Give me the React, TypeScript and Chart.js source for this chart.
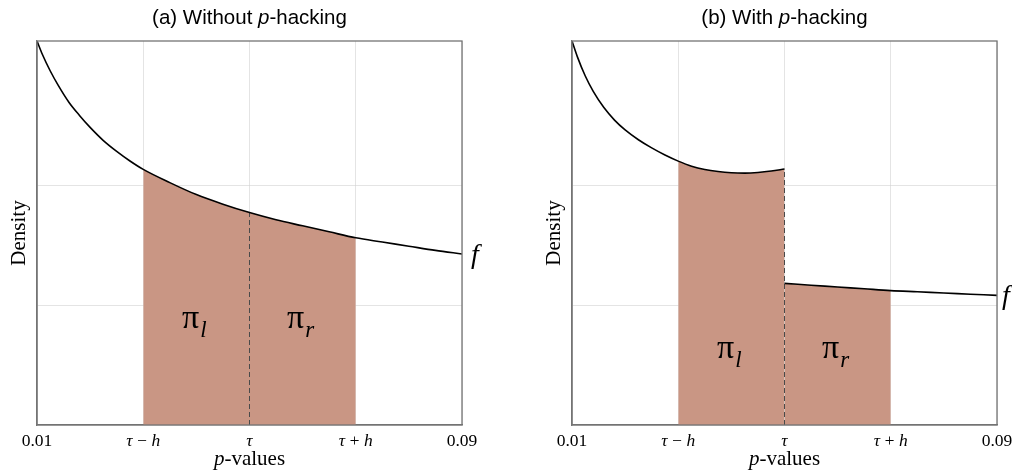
import React, { useEffect, useRef } from "react";
import { Chart, registerables } from "chart.js";
Chart.register(...registerables);

// ---------- data ----------
const pGrid = [0.01, 0.011, 0.0125, 0.014, 0.016, 0.018, 0.02, 0.0225, 0.025, 0.0275, 0.03, 0.035, 0.04, 0.045, 0.05, 0.055, 0.06, 0.065, 0.07, 0.075, 0.08, 0.085, 0.09];
const densityNoHacking = [3.2, 3.09, 2.95, 2.83, 2.69, 2.58, 2.48, 2.37, 2.28, 2.2, 2.13, 2.02, 1.92, 1.84, 1.77, 1.71, 1.66, 1.61, 1.56, 1.525, 1.49, 1.455, 1.425];

const pHackedLow = [0.01, 0.011, 0.0125, 0.014, 0.016, 0.018, 0.02, 0.0225, 0.025, 0.0275, 0.03, 0.0325, 0.035, 0.0375, 0.04, 0.0425, 0.045, 0.0475, 0.05];
const densityHackedLow = [3.2, 3.07, 2.908, 2.78, 2.645, 2.541, 2.459, 2.377, 2.309, 2.25, 2.199, 2.157, 2.129, 2.112, 2.102, 2.099, 2.104, 2.116, 2.134];
const pHackedHigh = [0.05, 0.055, 0.06, 0.065, 0.07, 0.075, 0.08, 0.085, 0.09];
const densityHackedHigh = [1.18, 1.165, 1.15, 1.135, 1.12, 1.11, 1.1, 1.09, 1.08];

const tau = 0.05;
const h = 0.02;
const xTickValues = [0.01, 0.03, 0.05, 0.07, 0.09];
const xTickLabels = ["0.01", "τ\u2009−\u2009h", "τ", "τ\u2009+\u2009h", "0.09"];
const yGridValues = [1, 2];
const piLabelX = [0.04, 0.06];
const piLabelText = [["π", "l"], ["π", "r"]];

// ---------- styles ----------
const FILL = "rgb(201,150,132)";
const GRID = "rgba(210,210,210,0.6)";
const BORDER = "#747474";
const SERIF = '"Liberation Serif", "DejaVu Serif", serif';
const SANS = '"Liberation Sans", Arial, sans-serif';

type Pt = { x: number; y: number };
const toPoints = (xs: number[], ys: number[]): Pt[] => xs.map((x, i) => ({ x, y: ys[i] }));
const between = (pts: Pt[], lo: number, hi: number) => pts.filter((p) => p.x >= lo - 1e-9 && p.x <= hi + 1e-9);

type Run = { text: string; font: string; dy?: number; dx?: number };
function drawRuns(ctx: CanvasRenderingContext2D, runs: Run[], x: number, y: number) {
  let total = 0;
  const widths = runs.map((r) => {
    ctx.font = r.font;
    const w = ctx.measureText(r.text).width + (r.dx || 0);
    total += w;
    return w;
  });
  let cx = x - total / 2;
  ctx.textAlign = "left";
  ctx.textBaseline = "alphabetic";
  runs.forEach((r, i) => {
    ctx.font = r.font;
    ctx.fillText(r.text, cx + (r.dx || 0), y + (r.dy || 0));
    cx += widths[i];
  });
}

const curveStyle = {
  borderColor: "#000",
  borderWidth: 1.6,
  pointRadius: 0,
  fill: false,
  cubicInterpolationMode: "monotone" as const,
};
const dashStyle = {
  borderColor: "#4a4a4a",
  borderWidth: 1,
  borderDash: [5, 3],
  pointRadius: 0,
  fill: false,
};
const fillStyle = {
  borderWidth: 0,
  borderColor: "rgba(0,0,0,0)",
  backgroundColor: FILL,
  pointRadius: 0,
  fill: "origin",
  cubicInterpolationMode: "monotone" as const,
};

type PanelCfg = {
  title: string;
  datasets: any[];
  axisWidth: number;
  padRight: number;
  piBaseline: number;
  fValue: number;
  fOffset: number;
};

function buildConfig(p: PanelCfg): any {
  const textPlugin = {
    id: "panelText",
    afterDraw(chart: any) {
      const ctx: CanvasRenderingContext2D = chart.ctx;
      const area = chart.chartArea;
      const xs = chart.scales.x;
      const ys = chart.scales.y;
      const cx = (area.left + area.right) / 2;
      ctx.save();
      ctx.fillStyle = "#000";
      // title
      drawRuns(ctx, [
        { text: p.title + " ", font: `20.5px ${SANS}` },
        { text: "p", font: `italic 20.5px ${SANS}` },
        { text: "-hacking", font: `20.5px ${SANS}` },
      ], cx, 24);
      // x axis title
      drawRuns(ctx, [
        { text: "p", font: `italic 21px ${SERIF}` },
        { text: "-values", font: `21px ${SERIF}` },
      ], cx, 465);
      // y axis title
      ctx.save();
      ctx.translate(area.left - 12, (area.top + area.bottom) / 2);
      ctx.rotate(-Math.PI / 2);
      drawRuns(ctx, [{ text: "Density", font: `21px ${SERIF}` }], 0, 0);
      ctx.restore();
      // pi labels
      piLabelX.forEach((vx, i) => {
        drawRuns(ctx, [
          { text: piLabelText[i][0], font: `34px ${SERIF}` },
          { text: piLabelText[i][1], font: `italic 23px ${SERIF}`, dy: 9, dx: 1 },
        ], xs.getPixelForValue(vx) - 2, ys.getPixelForValue(p.piBaseline));
      });
      // f label
      ctx.font = `italic 28px ${SERIF}`;
      ctx.textAlign = "left";
      ctx.fillText("f", area.right + p.fOffset, ys.getPixelForValue(p.fValue) + 9);
      // frame (top & right)
      ctx.strokeStyle = BORDER;
      ctx.lineWidth = 1.3;
      ctx.strokeRect(area.left, area.top, area.right - area.left, area.bottom - area.top);
      ctx.restore();
    },
  };

  return {
    type: "line",
    data: { datasets: p.datasets },
    plugins: [textPlugin],
    options: {
      animation: false,
      responsive: false,
      devicePixelRatio: 1,
      layout: { padding: { left: 0, top: 41, right: p.padRight, bottom: 0 } },
      plugins: { legend: { display: false }, tooltip: { enabled: false }, title: { display: false } },
      scales: {
        x: {
          type: "linear",
          min: 0.01,
          max: 0.09,
          z: 1,
          afterBuildTicks: (s: any) => {
            s.ticks = xTickValues.map((v) => ({ value: v }));
          },
          afterFit: (s: any) => {
            s.height = 48;
            s.paddingLeft = 0;
            s.paddingRight = 0;
          },
          ticks: {
            autoSkip: false,
            maxRotation: 0,
            padding: 6,
            color: "#000",
            callback: (_v: any, i: number) => xTickLabels[i],
            font: (c: any) => ({
              family: SERIF,
              size: 17.5,
              style: c.index >= 1 && c.index <= 3 ? "italic" : "normal",
            }),
          },
          grid: { color: GRID, drawTicks: false, lineWidth: 1 },
          border: { color: BORDER, width: 1.3 },
        },
        y: {
          type: "linear",
          min: 0,
          max: 3.2,
          z: 1,
          afterBuildTicks: (s: any) => {
            s.ticks = yGridValues.map((v) => ({ value: v }));
          },
          afterFit: (s: any) => {
            s.width = p.axisWidth;
            s.paddingTop = 0;
            s.paddingBottom = 0;
          },
          ticks: { display: false },
          grid: { color: GRID, drawTicks: false, lineWidth: 1 },
          border: { color: BORDER, width: 1.3 },
        },
      },
    },
  };
}

const ptsA = toPoints(pGrid, densityNoHacking);
const tauA = densityNoHacking[pGrid.indexOf(tau)];
const panelA: PanelCfg = {
  title: "(a) Without",
  axisWidth: 37,
  padRight: 44,
  piBaseline: 0.81,
  fValue: densityNoHacking[densityNoHacking.length - 1],
  fOffset: 9,
  datasets: [
    { ...curveStyle, data: ptsA },
    { ...dashStyle, data: [{ x: tau, y: 0 }, { x: tau, y: tauA }] },
    { ...fillStyle, data: between(ptsA, tau - h, tau + h) },
  ],
};

const ptsBLow = toPoints(pHackedLow, densityHackedLow);
const ptsBHigh = toPoints(pHackedHigh, densityHackedHigh);
const panelB: PanelCfg = {
  title: "(b) With",
  axisWidth: 66,
  padRight: 15,
  piBaseline: 0.56,
  fValue: densityHackedHigh[densityHackedHigh.length - 1],
  fOffset: 5,
  datasets: [
    { ...curveStyle, data: ptsBLow },
    { ...curveStyle, data: ptsBHigh },
    { ...dashStyle, data: [{ x: tau, y: 0 }, { x: tau, y: densityHackedLow[densityHackedLow.length - 1] }] },
    { ...fillStyle, data: between(ptsBLow, tau - h, tau) },
    { ...fillStyle, data: between(ptsBHigh, tau, tau + h) },
  ],
};

export default function App() {
  const refA = useRef<HTMLCanvasElement>(null);
  const refB = useRef<HTMLCanvasElement>(null);
  useEffect(() => {
    const a = new Chart(refA.current!, buildConfig(panelA));
    const b = new Chart(refB.current!, buildConfig(panelB));
    return () => {
      a.destroy();
      b.destroy();
    };
  }, []);
  return (
    <div style={{ position: "absolute", left: 0, top: 0, width: 1012, height: 473, background: "#fff", overflow: "hidden" }}>
      <canvas ref={refA} width={506} height={473} style={{ position: "absolute", left: 0, top: 0, width: 506, height: 473 }} />
      <canvas ref={refB} width={506} height={473} style={{ position: "absolute", left: 506, top: 0, width: 506, height: 473 }} />
    </div>
  );
}
